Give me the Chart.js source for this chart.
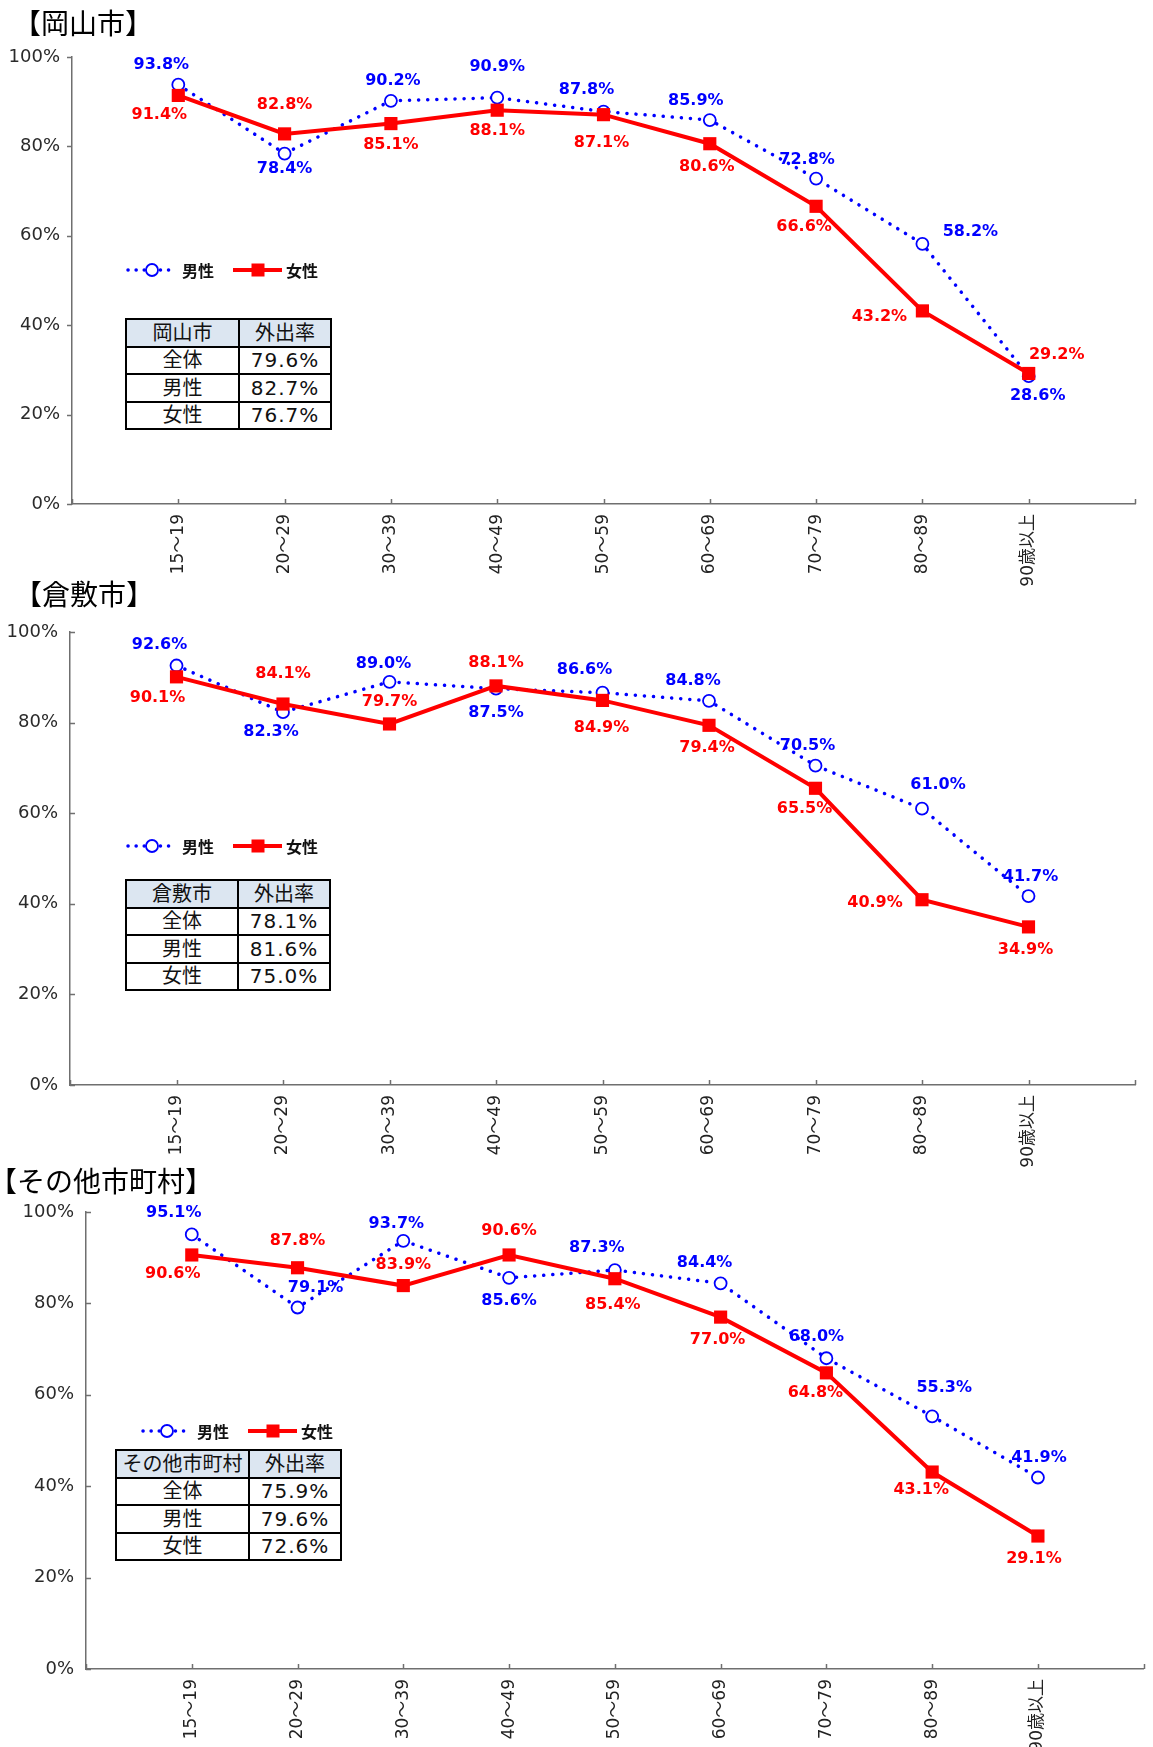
<!DOCTYPE html>
<html><head><meta charset="utf-8">
<script src="https://cdn.jsdelivr.net/npm/chart.js@4.4.0/dist/chart.umd.min.js"></script>
<style>
html,body{margin:0;padding:0;background:#fff;}
body{width:1153px;height:1747px;position:relative;overflow:hidden;}
.title{position:absolute;font-family:'Noto Sans CJK JP',sans-serif;font-size:28px;line-height:28px;color:#000;white-space:nowrap;z-index:2;}
canvas{position:absolute;left:0;z-index:1;}
table.summary{position:absolute;border-collapse:collapse;table-layout:fixed;font-family:'DejaVu Sans','Noto Sans CJK JP',sans-serif;font-size:20px;color:#111;z-index:3;background:#fff;}
table.summary td{border:2px solid #000;text-align:center;padding:0;line-height:1;}
table.summary tr{height:27.5px;}
table.summary tr.head td{background:#DCE6F1;}
table.summary td.num{letter-spacing:1px;}
</style>
</head><body>
<div class="title" id="t1" style="left:13px;top:8px;">【岡山市】</div>
<div class="title" id="t2" style="left:14px;top:579px;">【倉敷市】</div>
<div class="title" id="t3" style="left:-11px;top:1166px;">【その他市町村】</div>
<canvas id="c1" width="1153" height="570" style="top:32px"></canvas>
<canvas id="c2" width="1153" height="563" style="top:607px"></canvas>
<canvas id="c3" width="1153" height="560" style="top:1187px"></canvas>
<script>
// ---- data ----
const categories = ['15〜19','20〜29','30〜39','40〜49','50〜59','60〜69','70〜79','80〜89','90歳以上'];
const seriesNames = ['男性','女性'];
const yTicks = [0,20,40,60,80,100];
const okayamaMale   = [93.8,78.4,90.2,90.9,87.8,85.9,72.8,58.2,28.6];
const okayamaFemale = [91.4,82.8,85.1,88.1,87.1,80.6,66.6,43.2,29.2];
const kurashikiMale   = [92.6,82.3,89.0,87.5,86.6,84.8,70.5,61.0,41.7];
const kurashikiFemale = [90.1,84.1,79.7,88.1,84.9,79.4,65.5,40.9,34.9];
const otherMale   = [95.1,79.1,93.7,85.6,87.3,84.4,68.0,55.3,41.9];
const otherFemale = [90.6,87.8,83.9,90.6,85.4,77.0,64.8,43.1,29.1];
const tableHeader = '外出率';
const tableRowLabels = ['全体','男性','女性'];
const okayamaTable   = [79.6,82.7,76.7];
const kurashikiTable = [78.1,81.6,75.0];
const otherTable     = [75.9,79.6,72.6];

// ---- label placement (pixel offsets from the point) ----
const okayamaMaleLbl   = [[-17,-20],[0,15],[2,-20],[0,-31],[-17,-22],[-14,-19],[-9,-19],[48,-12],[9,20]];
const okayamaFemaleLbl = [[-19,19],[0,-29],[0,21],[0,21],[-2,28],[-3,23],[-12,21],[-43,6],[28,-19]];
const kurashikiMaleLbl   = [[-17,-21],[-12,20],[-6,-18],[0,24],[-18,-23],[-16,-20],[-8,-20],[16,-24],[2,-19]];
const kurashikiFemaleLbl = [[-19,21],[0,-30],[0,-22],[0,-23],[-1,27],[-2,23],[-11,21],[-47,3],[-3,23]];
const otherMaleLbl   = [[-18,-22],[18,-20],[-7,-17],[0,23],[-18,-22],[-16,-20],[-10,-21],[12,-28],[1,-20]];
const otherFemaleLbl = [[-19,19],[0,-27],[0,-21],[0,-24],[-2,26],[-3,23],[-11,20],[-11,18],[-4,23]];

const LATIN = "'DejaVu Sans', 'Noto Sans CJK JP', sans-serif";
const CJK = "'Noto Sans CJK JP', sans-serif";
const BLUE = '#0000FF', RED = '#FF0000', AXIS = '#6f6f6f';

const tickMarksPlugin = {
  id: 'tickMarks',
  beforeDatasetsDraw(chart, args, opts) {
    const {ctx, scales: {x, y}} = chart;
    ctx.save();
    ctx.strokeStyle = AXIS; ctx.lineWidth = 1.5;
    ctx.beginPath();
    for (let v = 0; v <= categories.length + 1; v++) {
      const px = Math.round(x.getPixelForValue(v)) + 0.5;
      ctx.moveTo(px, y.bottom); ctx.lineTo(px, y.bottom - 5);
    }
    yTicks.forEach(v => {
      const py = Math.round(y.getPixelForValue(v)) + 0.5;
      ctx.moveTo(x.left, py); ctx.lineTo(x.left + opts.yDir * 5, py);
    });
    ctx.stroke();
    ctx.restore();
  }
};

const pointLabelsPlugin = {
  id: 'pointLabels',
  afterDatasetsDraw(chart, args, opts) {
    const {ctx} = chart;
    ctx.save();
    ctx.font = "bold 16px " + LATIN;
    ctx.textAlign = 'center'; ctx.textBaseline = 'middle';
    chart.data.datasets.forEach((ds, di) => {
      const meta = chart.getDatasetMeta(di);
      ctx.fillStyle = ds.borderColor;
      meta.data.forEach((pt, i) => {
        const off = opts.offsets[di][i];
        ctx.fillText(ds.data[i].y.toFixed(1) + '%', pt.x + off[0], pt.y + off[1]);
      });
    });
    ctx.restore();
  }
};

const legendPlugin = {
  id: 'customLegend',
  afterDraw(chart, args, opts) {
    const {ctx} = chart;
    const x0 = opts.x, y0 = opts.y;
    const dsM = chart.data.datasets[1], dsF = chart.data.datasets[0];
    ctx.save();
    // male
    ctx.strokeStyle = BLUE; ctx.lineWidth = 3.5; ctx.lineCap = 'round';
    ctx.setLineDash([0.1, 8]);
    ctx.beginPath(); ctx.moveTo(x0, y0); ctx.lineTo(x0 + 46, y0); ctx.stroke();
    ctx.setLineDash([]);
    ctx.fillStyle = '#fff'; ctx.lineWidth = 1.8;
    ctx.beginPath(); ctx.arc(x0 + 24, y0, 6, 0, Math.PI * 2); ctx.fill(); ctx.stroke();
    // female
    ctx.strokeStyle = RED; ctx.lineWidth = 4; ctx.lineCap = 'butt';
    ctx.beginPath(); ctx.moveTo(x0 + 105, y0); ctx.lineTo(x0 + 154, y0); ctx.stroke();
    ctx.fillStyle = RED; ctx.fillRect(x0 + 130 - 6.5, y0 - 6.5, 13, 13);
    // text
    ctx.fillStyle = '#111'; ctx.font = "bold 16px " + CJK;
    ctx.textAlign = 'left'; ctx.textBaseline = 'middle';
    ctx.fillText(dsM.label, x0 + 54, y0 + 1);
    ctx.fillText(dsF.label, x0 + 158, y0 + 1);
    ctx.restore();
  }
};

function makeChart(id, male, female, maleLbl, femaleLbl, L) {
  const canvas = document.getElementById(id);
  const T = parseFloat(canvas.style.top), H = canvas.height;
  const toPts = arr => arr.map((v, i) => ({x: i + 1, y: v}));
  new Chart(canvas, {
    type: 'line',
    data: {
      datasets: [
        { label: seriesNames[1], data: toPts(female), order: 0,
          borderColor: RED, borderWidth: 4, tension: 0, fill: false,
          pointStyle: 'rect', pointRadius: 9.3, pointBackgroundColor: RED, pointBorderColor: RED, pointBorderWidth: 0 },
        { label: seriesNames[0], data: toPts(male), order: 1,
          borderColor: BLUE, borderWidth: 3.5, borderDash: [0.1, 9], borderCapStyle: 'round', tension: 0, fill: false,
          pointStyle: 'circle', pointRadius: 6, pointBackgroundColor: '#fff', pointBorderColor: BLUE, pointBorderWidth: 1.8 }
      ]
    },
    options: {
      responsive: false, animation: false, clip: false,
      layout: { padding: { top: L.top - T, right: 1153 - L.right, left: 0, bottom: 0 } },
      events: [],
      scales: {
        x: {
          type: 'linear', min: 0, max: categories.length + 1,
          afterBuildTicks: s => { s.ticks = categories.map((c, i) => ({value: i + 1})); },
          afterFit: s => { s.height = T + H - L.bottom; },
          ticks: { autoSkip: false, minRotation: 90, maxRotation: 90, padding: 10,
            callback: v => categories[v - 1],
            font: { family: LATIN, size: 17 }, color: '#222' },
          grid: { drawOnChartArea: false, drawTicks: false },
          border: { display: true, color: AXIS, width: 1.5 }
        },
        y: {
          min: 0, max: 100,
          afterBuildTicks: s => { s.ticks = yTicks.map(v => ({value: v})); },
          afterFit: s => { s.width = L.left; },
          ticks: { padding: 12, callback: v => v + '%', font: { family: LATIN, size: 18 }, color: '#2a2a2a' },
          grid: { drawOnChartArea: false, drawTicks: false },
          border: { display: true, color: AXIS, width: 1.5 }
        }
      },
      plugins: {
        legend: { display: false },
        tooltip: { enabled: false },
        tickMarks: { yDir: L.yDir },
        pointLabels: { offsets: [femaleLbl, maleLbl] },
        customLegend: { x: L.legX, y: L.legY - T }
      }
    },
    plugins: [tickMarksPlugin, pointLabelsPlugin, legendPlugin]
  });
}

function makeTable(name, values, pos) {
  const t = document.createElement('table');
  t.className = 'summary';
  t.style.left = pos.left + 'px'; t.style.top = pos.top + 'px'; t.style.width = pos.width + 'px';
  const cg = document.createElement('colgroup');
  [pos.col1, pos.width - pos.col1].forEach(w => { const c = document.createElement('col'); c.style.width = w + 'px'; cg.appendChild(c); });
  t.appendChild(cg);
  const head = document.createElement('tr'); head.className = 'head';
  [name, tableHeader].forEach(s => { const td = document.createElement('td'); td.textContent = s; head.appendChild(td); });
  t.appendChild(head);
  tableRowLabels.forEach((lab, i) => {
    const tr = document.createElement('tr');
    const a = document.createElement('td'); a.textContent = lab;
    const b = document.createElement('td'); b.className = 'num'; b.textContent = values[i].toFixed(1) + '%';
    tr.appendChild(a); tr.appendChild(b); t.appendChild(tr);
  });
  document.body.appendChild(t);
}

makeChart('c1', okayamaMale, okayamaFemale, okayamaMaleLbl, okayamaFemaleLbl,
  { top: 57, bottom: 504, left: 72, right: 1135, yDir: -1, legX: 128, legY: 270 });
makeChart('c2', kurashikiMale, kurashikiFemale, kurashikiMaleLbl, kurashikiFemaleLbl,
  { top: 632, bottom: 1085, left: 70, right: 1135, yDir: 1, legX: 128, legY: 846 });
makeChart('c3', otherMale, otherFemale, otherMaleLbl, otherFemaleLbl,
  { top: 1212, bottom: 1669, left: 86, right: 1151, yDir: 1, legX: 143, legY: 1431 });

makeTable('岡山市', okayamaTable, { left: 125, top: 318, width: 205, col1: 113 });
makeTable('倉敷市', kurashikiTable, { left: 125, top: 879, width: 204, col1: 112 });
makeTable('その他市町村', otherTable, { left: 115, top: 1449, width: 225, col1: 133 });
</script>
</body></html>
